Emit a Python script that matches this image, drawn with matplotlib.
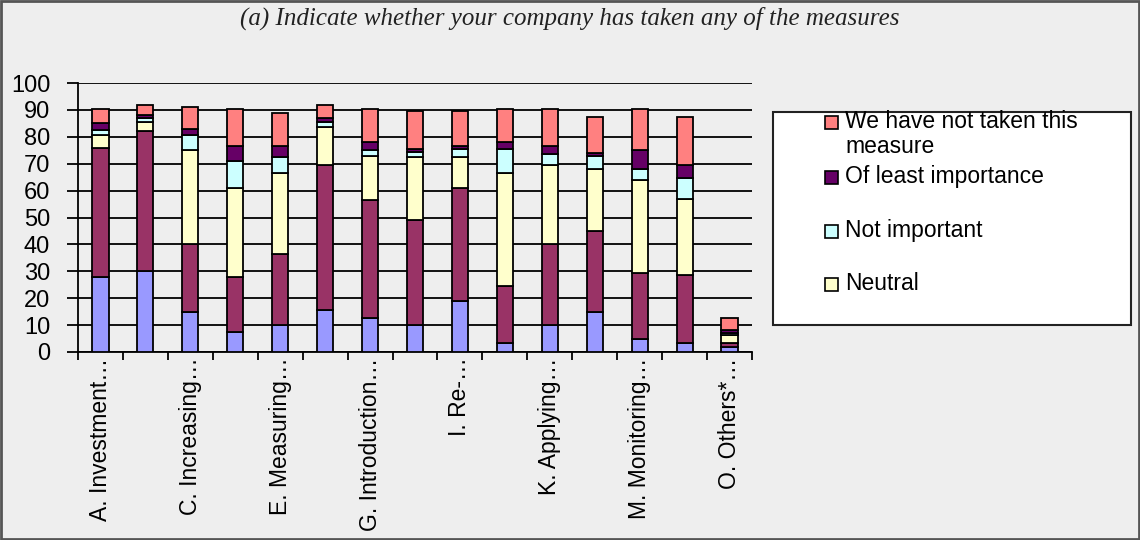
import matplotlib.pyplot as plt
from matplotlib.patches import Rectangle
import numpy as np

plt.rcParams['font.family'] = ['Liberation Sans', 'DejaVu Sans']

# Measures A..O; only every second label fits under the axis
measures = ['A. Investment…', 'B.', 'C. Increasing…', 'D.', 'E. Measuring…', 'F.',
            'G. Introduction…', 'H.', 'I. Re-…', 'J.', 'K. Applying…', 'L.',
            'M. Monitoring…', 'N.', 'O. Others*…']

# Share of companies (%) per answer, stacked bottom to top
very_important = [28, 30, 15, 7.5, 10, 15.5, 12.5, 10, 19, 3.5, 10, 15, 5, 3.5, 2]
important = [48, 52, 25, 20.5, 26.5, 54, 44, 39, 42, 21, 30, 30, 24.5, 25, 1.5]
neutral = [4.5, 3.5, 35, 33, 30, 14, 16.5, 23.5, 11.5, 42, 29.5, 23, 34.5, 28.5, 3]
not_important = [2, 1.5, 5.5, 10, 6, 2, 2, 2, 3, 9, 4, 5, 4, 7.5, 0.5]
least_importance = [2.5, 1, 2.5, 5.5, 4, 1.5, 3, 1, 1, 2.5, 3, 1, 7, 5, 1]
not_taken = [5.5, 4, 8, 14, 12.5, 5, 12.5, 14, 13, 12.5, 14, 13.5, 15.5, 18, 4.5]

series = [very_important, important, neutral, not_important, least_importance, not_taken]
colors = ['#9999FF', '#993366', '#FFFFCC', '#CCFFFF', '#660066', '#FF8080']

legend_labels = ['We have not taken this\nmeasure', 'Of least importance',
                 'Not important', 'Neutral']
legend_colors = ['#FF8080', '#660066', '#CCFFFF', '#FFFFCC']

bg = '#EEEEEE'
fig = plt.figure(figsize=(11.4, 5.4), dpi=100, facecolor=bg)
ax = fig.add_axes([78 / 1140, 188 / 540, 674 / 1140, 269 / 540])
ax.set_facecolor(bg)

x = np.arange(len(measures))
bottom = np.zeros(len(measures))
for vals, c in zip(series, colors):
    ax.bar(x, vals, width=0.36, bottom=bottom, color=c, edgecolor='black',
           linewidth=1.3, zorder=3)
    bottom += np.array(vals)

ax.set_xlim(-0.5, len(measures) - 0.5)
ax.set_ylim(0, 100)
ax.set_yticks(np.arange(0, 101, 10))
ax.yaxis.grid(True, color='black', linewidth=1.3)
ax.set_axisbelow(True)

# tick marks between categories, labels under every other bar
ax.set_xticks(np.arange(-0.5, len(measures), 1))
ax.set_xticklabels([])
ax.set_xticks(x[::2], [m for m in measures[::2]], minor=True)
ax.tick_params(axis='x', which='major', direction='out', length=6, width=1.3)
ax.tick_params(axis='x', which='minor', length=0, pad=4, labelsize=16.5,
               labelrotation=90)
ax.tick_params(axis='y', direction='out', length=8, width=1.3, pad=12,
               labelsize=17)

for s in ['top', 'right']:
    ax.spines[s].set_visible(False)
for s in ['left', 'bottom']:
    ax.spines[s].set_linewidth(1.3)

fig.text(0.5, 1 - 18 / 540, '(a) Indicate whether your company has taken any of the measures',
         ha='center', va='center', fontsize=18, style='italic',
         family='Liberation Serif', color='#222222')

# legend box on the right
fig.patches.append(Rectangle((773 / 1140, 1 - 325 / 540), 358 / 1140, 213 / 540,
                             transform=fig.transFigure, facecolor='white',
                             edgecolor='#222222', linewidth=1.5))
row_y = [123, 178, 232, 285]
for lab, c, yy in zip(legend_labels, legend_colors, row_y):
    fig.patches.append(Rectangle((825 / 1140, 1 - (yy + 6) / 540), 13 / 1140, 13 / 540,
                                 transform=fig.transFigure, facecolor=c,
                                 edgecolor='black', linewidth=1.2))
    fig.text(845 / 1140, 1 - (yy - 13) / 540, lab, ha='left', va='top',
             fontsize=16.5, linespacing=1.1)

# outer frame
fig.patches.append(Rectangle((0.001, 0.002), 0.998, 0.996, transform=fig.transFigure,
                             facecolor='none', edgecolor='#555555', linewidth=2))

fig.savefig('out.png', dpi=100, facecolor=bg)
